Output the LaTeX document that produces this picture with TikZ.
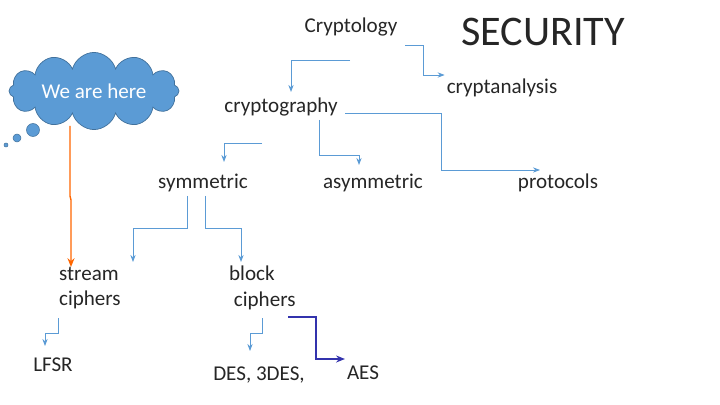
\documentclass[tikz,border=0pt]{standalone}
\usepackage{fontspec}
\setmainfont{Carlito}
\usetikzlibrary{shapes.symbols,arrows.meta}
\definecolor{cloudblue}{HTML}{5B9BD5}
\definecolor{cloudedge}{HTML}{41719C}
\tikzset{
  lbl/.style={inner sep=1pt,text=black!85,font=\fontsize{12}{14.5}\selectfont},
  link/.style={draw=cloudblue,line width=0.5pt,-{Stealth[length=4pt,width=3pt]}},
  dlink/.style={draw=blue!60!black!80,line width=0.8pt,-{Stealth[length=5pt,width=4pt]}},
}
\begin{document}
\begin{tikzpicture}[x=0.02cm,y=-0.02cm]
\useasboundingbox (0,0) rectangle (720,405);
% texts
\path (351,27) node (cryptology) [lbl] {Cryptology};
\path (543,32) node (security) [lbl,font=\fontsize{24}{28}\selectfont] {SECURITY};
\path (502,88) node (cryptanalysis) [lbl] {cryptanalysis};
\path (281,107) node (cryptography) [lbl] {cryptography};
\path (203,183) node (symmetric) [lbl] {symmetric};
\path (373,183) node (asymmetric) [lbl] {asymmetric};
\path (558,183) node (protocols) [lbl] {protocols};
\path (57,288) node (stream) [lbl,anchor=west,align=left] {stream\\ciphers};
\path (227,288) node (block) [lbl,anchor=west,align=left] {block\\\ ciphers};
\path (53,365) node (lfsr) [lbl] {LFSR};
\path (259,375) node (des) [lbl] {DES, 3DES,};
\path (363,373) node (aes) [lbl] {AES};
% cloud
\path (94,91) node (cloud) [cloud,cloud puffs=12,aspect=3,minimum width=3.4cm,minimum height=1.3cm,
  draw=cloudedge,fill=cloudblue,text=white,font=\fontsize{12}{14}\selectfont,inner sep=0pt] {We are here};
\foreach \x/\y/\r in {33/130/0.13,17/138/0.08,6/145/0.04}
  \fill[cloudblue,draw=cloudedge,line width=0.3pt] (\x,\y) circle[radius=\r cm];
% connectors
\coordinate (c1) at (405,45);
\coordinate (c2) at (350,60);
\draw[link] (c1) -| (423,75) -- (cryptanalysis.west |- 0,75);
\draw[link] (c2) -| (291,92);
\draw[link] (262,143) -| (224,162);
\draw[link] (319,120) |- (359,155) -- (359,165);
\draw[link] (345,113) -| (441,170) -- (540,170);
\draw[link] (187,196) |- (133,228) -- (133,262);
\draw[link] (205,196) |- (241,228) -- (241,262);
\draw[link] (262,318) |- (250,333) -- (250,351);
\draw[link] (58,318) |- (45,333) -- (45,346);
\draw[dlink] (288,317) -| (316,359) -- (aes.west |- 0,359);
\draw[draw=orange!80!red,line width=0.8pt,-{Stealth[length=5pt,width=4pt]}] (70,126) -- (70,196) -- (71,200) -- (71,267);
\end{tikzpicture}
\end{document}
